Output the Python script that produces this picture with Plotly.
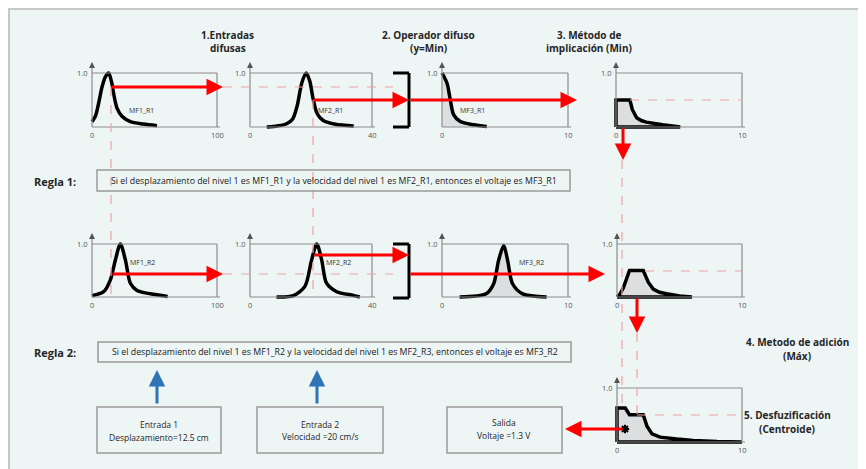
import plotly.graph_objects as go

# membership functions (x in units of each panel, y in 0..1)
mf1_r1_x = [0, 2.7, 5.3, 8, 10.7, 13.3, 16, 17.3, 20, 24, 30.7, 41, 52]
mf1_r1_y = [0.1, 0.2, 0.44, 0.74, 0.93, 1.0, 0.8, 0.62, 0.35, 0.2, 0.1, 0.055, 0.025]
mf2_r1_x = [5.5, 9, 12, 14, 15.5, 17, 18.4, 19.6, 20.6, 22, 24, 28, 34]
mf2_r1_y = [0.0, 0.02, 0.06, 0.15, 0.4, 0.82, 1.0, 0.85, 0.55, 0.25, 0.12, 0.05, 0.02]
mf3_r1_x = [0, 0.4, 0.66, 0.92, 1.45, 2.5, 3.55]
mf3_r1_y = [1.0, 0.81, 0.5, 0.23, 0.1, 0.04, 0.01]
imp_r1_x = [0, 0, 1.1, 1.3, 1.64, 2.0, 2.4, 3.0, 3.7, 5.1, 0]
imp_r1_y = [0, 0.5, 0.5, 0.32, 0.17, 0.12, 0.09, 0.06, 0.04, 0.0, 0]

mf1_r2_x = [0, 9.3, 14.7, 18.7, 22.7, 26.7, 30.7, 36, 46.7, 60.5]
mf1_r2_y = [0.025, 0.1, 0.325, 0.7, 1.0, 0.7, 0.26, 0.125, 0.06, 0.01]
mf2_r2_x = [8.7, 14.2, 18, 20.2, 21.9, 23.5, 25.1, 28.4, 33.9, 36]
mf2_r2_y = [0, 0.025, 0.2, 0.7, 1.0, 0.7, 0.26, 0.1, 0.03, 0]
mf3_r2_x = [1.4, 3.5, 4.1, 4.5, 4.9, 5.2, 5.6, 6.4, 8.3]
mf3_r2_y = [0, 0.06, 0.25, 0.7, 0.97, 0.7, 0.25, 0.06, 0]
imp_r2_x = [0, 0.2, 0.5, 0.8, 1.0, 2.1, 2.3, 2.5, 2.9, 3.4, 3.96, 5.0, 6.0, 0]
imp_r2_y = [0, 0.04, 0.17, 0.36, 0.5, 0.5, 0.4, 0.28, 0.15, 0.09, 0.06, 0.02, 0, 0]

agg_x = [0, 0, 0.66, 1.0, 2.1, 2.25, 2.4, 2.8, 3.45, 4.8, 6.1, 8, 10, 0]
agg_y = [0, 0.63, 0.63, 0.506, 0.506, 0.4, 0.29, 0.15, 0.09, 0.055, 0.03, 0.01, 0, 0]
centroid_x = [0.64]
centroid_y = [0.24]

mf_labels = ["MF1_R1", "MF2_R1", "MF3_R1", "MF1_R2", "MF2_R2", "MF3_R2"]
rule1 = "Si el desplazamiento del nivel 1 es MF1_R1 y la velocidad del nivel 1 es MF2_R1, entonces el voltaje es MF3_R1"
rule2 = "Si el desplazamiento del nivel 1 es MF1_R2 y la velocidad del nivel 1 es MF2_R3, entonces el voltaje es MF3_R2"

# the page puts the figure 8px in from the window corner
OFF = 8
W, H = 866 - OFF, 469 - OFF
pad = 0.08
font = "Liberation Sans Narrow, Open Sans, sans-serif"
red = "#ff0000"
pink = "#f2a2a2"
grey = "#8c8c8c"
fill = "#dcdedf"

def px(x):
    return (x - OFF) / W

def py(y):
    return 1 - (y - OFF) / H

fig = go.Figure()
shapes = []
annots = []

def line(x0, y0, x1, y1, color, width=1.2, dash=None):
    shapes.append(dict(type="line", xref="paper", yref="paper",
                       x0=px(x0), y0=py(y0), x1=px(x1), y1=py(y1),
                       line=dict(color=color, width=width, dash=dash)))

def arrow(x0, y0, x1, y1, color=red, width=3, size=1.1):
    annots.append(dict(xref="paper", yref="paper", x=px(x1), y=py(y1),
                       axref="pixel", ayref="pixel", ax=x0 - x1, ay=y0 - y1,
                       text="", showarrow=True, arrowhead=2, arrowsize=size,
                       arrowwidth=width, arrowcolor=color, standoff=0))

def text(x, y, s, size=10, bold=False, xanchor="center", color="#262626"):
    annots.append(dict(xref="paper", yref="paper", x=px(x), y=py(y),
                       text="<b>" + s + "</b>" if bold else s, showarrow=False,
                       xanchor=xanchor, yanchor="middle",
                       font=dict(family=font, size=size, color=color)))

# background panel
shapes.append(dict(type="rect", xref="paper", yref="paper", layer="below",
                   x0=px(9), y0=py(9), x1=1.05, y1=-0.05,
                   fillcolor="#eef5f5", line=dict(color="#c6c8c8", width=2)))

# panel boxes: (left, right, top, bottom) in pixels and x maximum
panels = [
    (92, 217, 73, 127, 100), (250, 372, 73, 127, 40), (442, 568, 73, 127, 10),
    (616, 742, 73, 127, 10), (92, 217, 244, 297, 100), (250, 372, 244, 297, 40),
    (442, 568, 244, 297, 10), (617, 742, 244, 297, 10), (617, 742, 388, 442, 10),
]

for i, (L, R, T, B, xmax) in enumerate(panels):
    n = i + 1
    sx = "" if n == 1 else str(n)
    dx = pad * (R - L)
    dy = pad * (B - T)
    fig.update_layout(**{
        "xaxis" + sx: dict(domain=[px(L - dx), px(R + dx)], range=[-pad * xmax, (1 + pad) * xmax],
                           visible=False, anchor="y" + sx),
        "yaxis" + sx: dict(domain=[py(B + dy), py(T - dy)], range=[-pad, 1 + pad],
                           visible=False, anchor="x" + sx),
    })
    line(L, T, R, T, grey)
    line(R, T, R, B, grey)
    line(L, B, R + 3, B, grey)
    line(L, B, L, T - 8, grey)
    arrow(L, T - 6, L, T - 11, color="#555555", width=1, size=1.2)
    text(L - 2, T, "1.0", size=7.5, xanchor="right", color="#555555")
    text(L, B + 8, "0", size=7.5, color="#555555")
    text(R, B + 8, str(xmax), size=7.5, color="#555555")

curves = [
    (mf1_r1_x, mf1_r1_y, 1, False), (mf2_r1_x, mf2_r1_y, 2, False),
    (mf3_r1_x, mf3_r1_y, 3, True), (mf1_r2_x, mf1_r2_y, 5, False),
    (mf2_r2_x, mf2_r2_y, 6, False), (mf3_r2_x, mf3_r2_y, 7, True),
]
for cx, cy, n, filled in curves:
    sx = "" if n == 1 else str(n)
    fig.add_trace(go.Scatter(x=cx, y=cy, mode="lines", xaxis="x" + sx, yaxis="y" + sx,
                             line=dict(color="black", width=3.5, shape="spline", smoothing=0.8),
                             fill="tozeroy" if filled else None, fillcolor=fill,
                             showlegend=False, hoverinfo="skip"))

for cx, cy, n in [(imp_r1_x, imp_r1_y, 4), (imp_r2_x, imp_r2_y, 8), (agg_x, agg_y, 9)]:
    fig.add_trace(go.Scatter(x=cx, y=cy, mode="lines", xaxis="x%d" % n, yaxis="y%d" % n,
                             line=dict(color="black", width=3.5), fill="toself", fillcolor=fill,
                             showlegend=False, hoverinfo="skip"))

fig.add_trace(go.Scatter(x=centroid_x, y=centroid_y, mode="markers", xaxis="x9", yaxis="y9",
                         marker=dict(symbol="asterisk", size=7, color="black",
                                     line=dict(color="black", width=2)),
                         showlegend=False, hoverinfo="skip"))

label_pos = [(1, 39.8, 0.31), (2, 26.5, 0.31), (3, 2.4, 0.31),
             (5, 40.5, 0.65), (6, 29, 0.65), (7, 7.1, 0.65)]
for (n, lx, ly), lab in zip(label_pos, mf_labels):
    sx = "" if n == 1 else str(n)
    annots.append(dict(xref="x" + sx, yref="y" + sx, x=lx, y=ly, text=lab, showarrow=False,
                       font=dict(family=font, size=7, color="#333333")))

# brackets (min operator)
for T, B in [(73, 127), (244, 298)]:
    line(393, T, 409, T, "black", 3)
    line(409, T, 409, B, "black", 3)
    line(393, B, 409, B, "black", 3)

# dashed guide lines
line(111, 87, 111, 297, pink, 1.2, "dash")
line(313, 100, 313, 297, pink, 1.2, "dash")
line(223, 87, 393, 87, pink, 1.2, "dash")
line(223, 274, 393, 274, pink, 1.2, "dash")
line(630, 100, 742, 100, pink, 1.2, "dash")
line(645, 271, 742, 271, pink, 1.2, "dash")
line(622, 160, 622, 408, pink, 1.2, "dash")
line(637, 333, 637, 415, pink, 1.2, "dash")
line(637, 415, 746, 415, pink, 1.2, "dash")

# red flow arrows
arrow(110, 87, 223, 87)
arrow(312, 100, 409, 100)
arrow(409, 100, 577, 100)
arrow(623, 127, 623, 160)
arrow(111, 274, 223, 274)
arrow(313, 255, 409, 255)
arrow(409, 274, 605, 274)
arrow(637, 297, 637, 333)
arrow(624, 429, 565, 429)

# blue input arrows
arrow(157, 405, 157, 370, color="#2e75b6", width=3)
arrow(317, 405, 317, 370, color="#2e75b6", width=3)

# rule boxes and input/output boxes
for x0, y0, x1, y1 in [(97, 170, 570, 191), (98, 342, 571, 362),
                       (97, 407, 221, 453), (257, 407, 383, 453), (447, 407, 562, 453)]:
    shapes.append(dict(type="rect", xref="paper", yref="paper",
                       x0=px(x0), y0=py(y0), x1=px(x1), y1=py(y1),
                       line=dict(color="#9a9a9a", width=1.5)))

text(334, 181, rule1, size=8.8, color="#1a1a1a")
text(335, 352, rule2, size=8.8, color="#1a1a1a")
text(32, 181, "Regla 1:", size=11, bold=True, xanchor="left")
text(32, 352, "Regla 2:", size=11, bold=True, xanchor="left")

text(159, 424, "Entrada 1", size=8.5)
text(159, 437, "Desplazamiento=12.5 cm", size=8.5)
text(320, 424, "Entrada 2", size=8.5)
text(320, 436, "Velocidad =20 cm/s", size=8.5)
text(504, 422, "Salida", size=8.5)
text(504, 435, "Voltaje =1.3 V", size=8.5)

text(228, 35, "1.Entradas", size=10, bold=True)
text(228, 48, "difusas", size=10, bold=True)
text(428, 35, "2. Operador difuso", size=10, bold=True)
text(428, 48, "(y=Min)", size=10, bold=True)
text(589, 35, "3. Método de", size=10, bold=True)
text(589, 48, "implicación (Min)", size=10, bold=True)
text(797, 342, "4. Metodo de adición", size=10, bold=True)
text(797, 356, "(Máx)", size=10, bold=True)
text(787, 415, "5. Desfuzificación", size=10, bold=True)
text(787, 429, "(Centroide)", size=10, bold=True)

fig.update_layout(
    width=W, height=H,
    margin=dict(l=0, r=0, t=0, b=0),
    paper_bgcolor="white", plot_bgcolor="rgba(0,0,0,0)",
    shapes=shapes, annotations=annots,
    font=dict(family=font),
)

fig.write_html("out.html")
